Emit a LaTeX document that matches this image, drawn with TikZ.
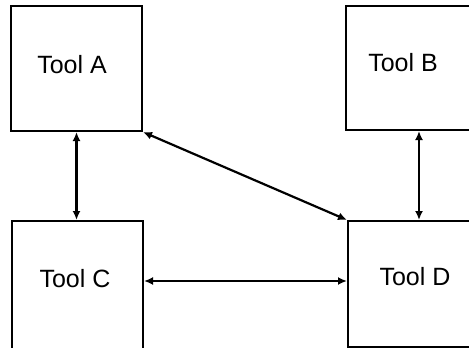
\documentclass[tikz,border=0pt]{standalone}
\usepackage{fontspec}
\setmainfont{Liberation Sans}
\usetikzlibrary{arrows.meta}
\begin{document}
\begin{tikzpicture}[x=1pt,y=-1pt,
  toolbox/.style={draw=black,line width=2pt,fill=white,inner sep=0pt},
  toollabel/.style={inner sep=0pt,font=\fontsize{25}{27}\selectfont},
  conn/.style={line width=2.2pt,{Latex[length=9pt,width=8pt]}-{Latex[length=9pt,width=8pt]}}]
\useasboundingbox (0,0) rectangle (469,348);
\clip (0,0) rectangle (469,348);
% boxes (B, C and D run past the frame)
\node[toolbox,minimum width=131pt,minimum height=125pt] (A) at (76.5,68.5) {};
\node[toolbox,minimum width=146pt,minimum height=124pt] (B) at (419,68) {};
\node[toolbox,minimum width=131pt,minimum height=149pt] (C) at (77.5,295.5) {};
\node[toolbox,minimum width=142pt,minimum height=126pt] (D) at (419,284) {};
% labels
\node[toollabel] (la) at (72,65) {Tool A};
\node[toollabel] (lb) at (403,63) {Tool B};
\node[toollabel] (lc) at (75,279) {Tool C};
\node[toollabel] (ld) at (415,277) {Tool D};
% connectors
\draw[conn] (A.south) -- (A.south |- C.north);
\draw[conn] (B.south) -- (D.north);
\draw[conn] ([yshift=-61pt]C.north east) -- ([yshift=-61pt]D.north west);
\draw[conn] (A.south east) -- (D.north west);
\end{tikzpicture}
\end{document}
